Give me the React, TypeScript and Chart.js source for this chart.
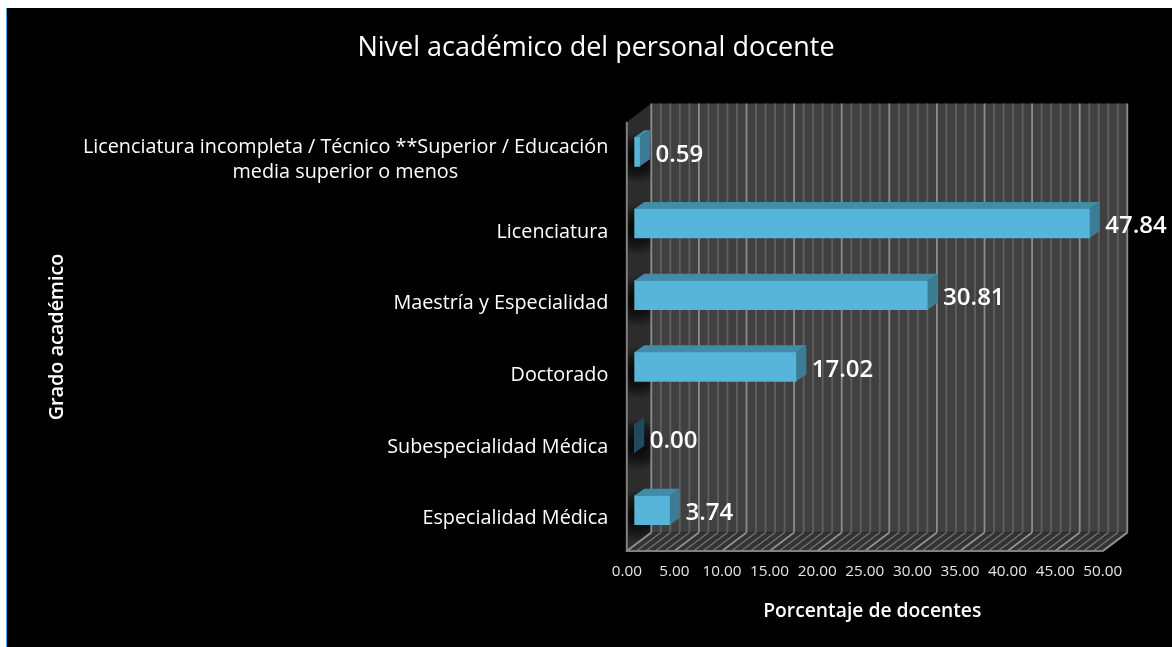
import React, { useEffect, useRef } from "react";
import { Chart, registerables } from "chart.js";

Chart.register(...registerables);

const chartTitle = "Nivel académico del personal docente";
const xAxisTitle = "Porcentaje de docentes";
const yAxisTitle = "Grado académico";
const categories = [
  "Licenciatura incompleta / Técnico **Superior / Educación|media superior o menos",
  "Licenciatura",
  "Maestría y Especialidad",
  "Doctorado",
  "Subespecialidad Médica",
  "Especialidad Médica",
];
const values = [0.59, 47.84, 30.81, 17.02, 0.0, 3.74];
const FONT = "'Open Sans'";

const FRONT_SHIFT = 7.5;
const WALL_TOP = 122;
const WALL_BOTTOM = 551;
const WALL_DY = 18.5;
const BAR_DX = 10;
const BAR_DY = 7;

const poly = (ctx: CanvasRenderingContext2D, pts: number[][], fill: string) => {
  ctx.beginPath();
  pts.forEach((p, i) => (i ? ctx.lineTo(p[0], p[1]) : ctx.moveTo(p[0], p[1])));
  ctx.closePath();
  ctx.fillStyle = fill;
  ctx.fill();
};
const seg = (ctx: CanvasRenderingContext2D, x1: number, y1: number, x2: number, y2: number, c: string, w: number) => {
  ctx.beginPath();
  ctx.moveTo(x1, y1);
  ctx.lineTo(x2, y2);
  ctx.strokeStyle = c;
  ctx.lineWidth = w;
  ctx.stroke();
};

const bgPlugin = {
  id: "bg",
  beforeDraw(chart: any) {
    const { ctx, width, height } = chart;
    ctx.save();
    ctx.fillStyle = "#ffffff";
    ctx.fillRect(0, 0, width, height);
    ctx.fillStyle = "#000000";
    ctx.fillRect(7, 8, width - 7, height - 8);
    ctx.fillStyle = "#3CB0DC";
    ctx.fillRect(6, 8, 1, height - 8);
    ctx.restore();
  },
};

const wallPlugin = {
  id: "walls",
  beforeDatasetsDraw(chart: any) {
    const { ctx } = chart;
    const x = chart.scales.x;
    const fx = (v: number) => x.getPixelForValue(v) - FRONT_SHIFT;
    const bx = (v: number) => fx(v) + WALL_DY + 6;
    const top = WALL_TOP, bot = WALL_BOTTOM;
    const d = WALL_DY;
    ctx.save();
    // back wall
    poly(ctx, [[bx(0), top - d], [bx(50), top - d], [bx(50), bot - d], [bx(0), bot - d]], "#404040");
    // left wall
    poly(ctx, [[fx(0), top], [bx(0), top - d], [bx(0), bot - d], [fx(0), bot]], "#2c2c2c");
    // floor
    poly(ctx, [[fx(0), bot], [bx(0), bot - d], [bx(50), bot - d], [fx(50), bot]], "#333333");
    // shadows of the bars on the left wall
    const meta = chart.getDatasetMeta(0);
    ctx.save();
    ctx.beginPath();
    ctx.moveTo(fx(0) + 1, top);
    ctx.lineTo(bx(0), top - d);
    ctx.lineTo(bx(0), bot - d);
    ctx.lineTo(fx(0) + 1, bot);
    ctx.closePath();
    ctx.clip();
    meta.data.forEach((b: any) => {
      const cy = b.y + 6;
      const g = ctx.createRadialGradient(fx(0) + 11, cy, 2, fx(0) + 11, cy, 26);
      g.addColorStop(0, "rgba(0,0,0,0.9)");
      g.addColorStop(0.6, "rgba(0,0,0,0.5)");
      g.addColorStop(1, "rgba(0,0,0,0)");
      ctx.fillStyle = g;
      ctx.fillRect(fx(0), cy - 30, 30, 60);
    });
    ctx.restore();
    // grid lines
    for (let v = 0; v <= 50; v += 1) {
      if (v % 5 === 0) continue;
      seg(ctx, bx(v), top - d, bx(v), bot - d, "#5f5f5f", 1.8);
      seg(ctx, fx(v), bot, bx(v), bot - d, "#777777", 1.2);
    }
    for (let v = 0; v <= 50; v += 5) {
      seg(ctx, bx(v), top - d, bx(v), bot - d, "#8c8c8c", 1.8);
      seg(ctx, fx(v), bot, bx(v), bot - d, "#949494", 1.6);
    }
    seg(ctx, fx(0), top, fx(0), bot + 1, "#808080", 2);
    seg(ctx, fx(0) - 1, bot, fx(50), bot, "#808080", 2);
    seg(ctx, fx(50), bot, bx(50), bot - d, "#8c8c8c", 1.6);
    ctx.restore();
  },
  afterDatasetsDraw(chart: any) {
    const { ctx } = chart;
    const meta = chart.getDatasetMeta(0);
    ctx.save();
    meta.data.forEach((b: any, i: number) => {
      const l = b.base, r = b.x, t = b.y - b.height / 2, btm = b.y + b.height / 2;
      const zero = values[i] === 0;
      if (!zero) {
        poly(ctx, [[l, t], [l + BAR_DX, t - BAR_DY], [r + BAR_DX, t - BAR_DY], [r, t]], "#428CAA");
      }
      poly(ctx, [[r, t], [r + BAR_DX, t - BAR_DY], [r + BAR_DX, btm - BAR_DY], [r, btm]], zero ? "#1D4A5E" : "#3D7C95");
      ctx.font = `600 24px ${FONT}`;
      ctx.fillStyle = "#ffffff";
      ctx.textAlign = "left";
      ctx.textBaseline = "middle";
      ctx.fillText(values[i].toFixed(2), r + 15.5, b.y + 3);
    });
    // second line of the long category, centred under the first
    const first = categories[0].split("|");
    const y = chart.scales.y;
    ctx.font = `400 19.8px ${FONT}`;
    ctx.fillStyle = "#ffffff";
    ctx.textAlign = "center";
    ctx.textBaseline = "middle";
    const w = ctx.measureText(first[0]).width;
    ctx.fillText(first[1], 608 - w / 2, y.getPixelForValue(0) + 8.5 + 12.5);
    // y axis title
    ctx.translate(57, 337);
    ctx.rotate(-Math.PI / 2);
    ctx.font = `600 19.8px ${FONT}`;
    ctx.fillText(yAxisTitle, 0, 0);
    ctx.restore();
  },
};

export default function App() {
  const ref = useRef<HTMLCanvasElement>(null);
  useEffect(() => {
    document.body.style.margin = "0";
    const chart = new Chart(ref.current as HTMLCanvasElement, {
      type: "bar",
      data: {
        labels: categories.map((c) => c.split("|")[0]),
        datasets: [
          {
            data: values,
            backgroundColor: "#56B5D9",
            barThickness: 29,
            borderWidth: 0,
          },
        ],
      },
      plugins: [bgPlugin, wallPlugin],
      options: {
        indexAxis: "y",
        animation: false,
        responsive: false,
        layout: { padding: { left: 81.7, right: 61.7, top: 0, bottom: 0 } },
        plugins: {
          legend: { display: false },
          tooltip: { enabled: false },
          title: {
            display: true,
            text: chartTitle,
            color: "#ffffff",
            font: { family: FONT, size: 27, weight: "500" },
            padding: { top: 32, bottom: 51.6 },
          },
        },
        scales: {
          x: {
            min: 0,
            max: 50,
            ticks: {
              stepSize: 5,
              color: "#e6e6e6",
              font: { family: FONT, size: 15.3 },
              labelOffset: -7.5,
              padding: 8,
              maxRotation: 0,
              autoSkip: false,
              callback: (v: any) => Number(v).toFixed(2),
            },
            grid: { display: false },
            border: { display: false },
            title: {
              display: true,
              text: xAxisTitle,
              color: "#ffffff",
              font: { family: FONT, size: 19.3, weight: "600" },
              padding: { top: 0, bottom: 24 },
            },
            afterFit: (s: any) => {
              s.height = 101;
            },
          },
          y: {
            ticks: {
              color: "#ffffff",
              font: { family: FONT, size: 19.8, lineHeight: 25 / 19.8 },
              labelOffset: 8.5,
              padding: 26,
              autoSkip: false,
              callback: (_v: any, i: number) =>
                categories[i].includes("|") ? [categories[i].split("|")[0], ""] : categories[i],
            },
            grid: { display: false, drawTicks: false },
            border: { display: false },
            afterFit: (s: any) => {
              s.width = 552.6;
            },
          },
        },
      },
    } as any);
    return () => chart.destroy();
  }, []);
  return <canvas ref={ref} width={1172} height={647} style={{ display: "block" }} />;
}
